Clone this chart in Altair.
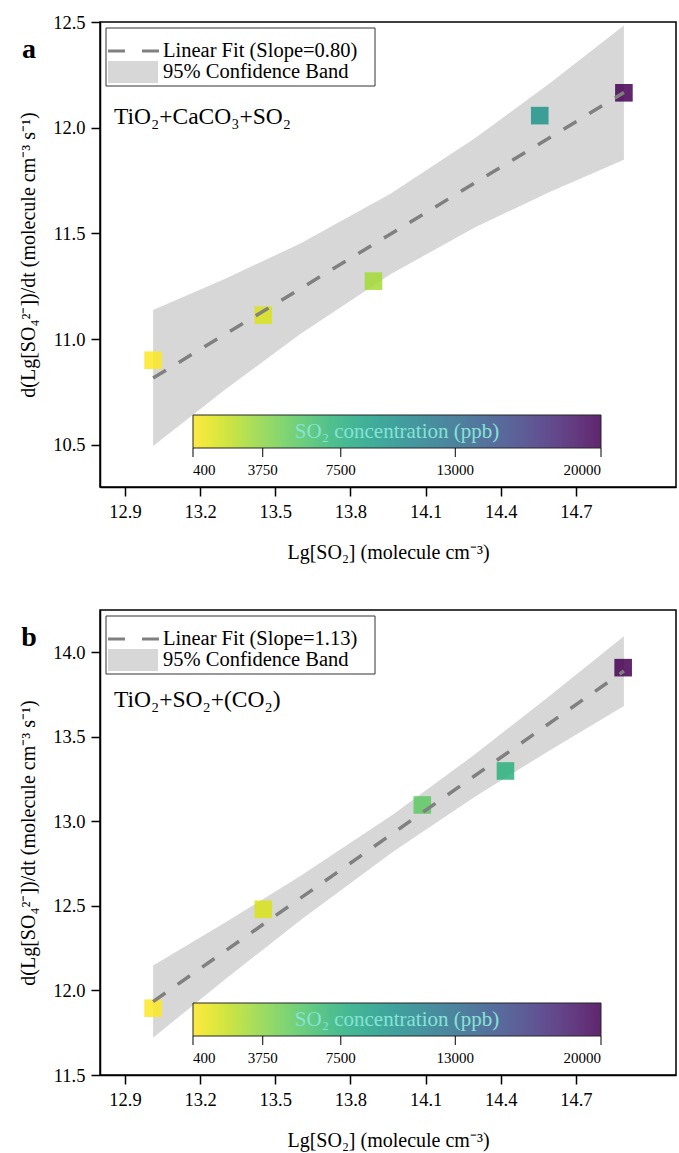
import altair as alt
import pandas as pd

FONT = "Liberation Serif"

# ---------------- data ----------------
x_ticks = [12.9, 13.2, 13.5, 13.8, 14.1, 14.4, 14.7]
cbar_ticks = [400, 3750, 7500, 13000, 20000]

# panel a : TiO2+CaCO3+SO2
a_x = [13.012, 13.452, 13.892, 14.556, 14.892]
a_y = [10.900, 11.113, 11.274, 12.057, 12.165]
a_conc = [400, 1500, 3000, 9800, 20000]
a_fit_x = [13.012, 14.892]
a_fit_y = [10.816, 12.166]
a_band_x = [13.012, 13.3, 13.6, 13.96, 14.3, 14.6, 14.892]
a_band_hi = [11.138, 11.285, 11.452, 11.687, 11.952, 12.214, 12.484]
a_band_lo = [10.494, 10.761, 11.024, 11.307, 11.530, 11.698, 11.848]
a_y_ticks = [10.5, 11.0, 11.5, 12.0, 12.5]

# panel b : TiO2+SO2+(CO2)
b_x = [13.012, 13.452, 14.087, 14.419, 14.889]
b_y = [11.895, 12.480, 13.097, 13.298, 13.909]
b_conc = [400, 1500, 5300, 7500, 20000]
b_fit_x = [13.012, 14.892]
b_fit_y = [11.934, 13.889]
b_band_x = [13.012, 13.3, 13.6, 13.97, 14.3, 14.6, 14.892]
b_band_hi = [12.147, 12.402, 12.677, 13.040, 13.400, 13.748, 14.095]
b_band_lo = [11.721, 12.066, 12.415, 12.820, 13.148, 13.424, 13.683]
b_y_ticks = [11.5, 12.0, 12.5, 13.0, 13.5, 14.0]

X_TITLE = "Lg[SO₂] (molecule cm⁻³)"
Y_TITLE = "d(Lg[SO₄²⁻])/dt (molecule cm⁻³ s⁻¹)"
CB_TITLE = "SO₂ concentration (ppb)"

W, H = 576, 465


def panel(letter, px, py, pconc, fx, fy, bx, bhi, blo, ydom, yticks,
          fit_label, annot, annot_y):
    xs = alt.Scale(domain=[12.8, 15.1], nice=False, zero=False)
    ys = alt.Scale(domain=ydom, nice=False, zero=False)
    xaxis = alt.Axis(values=x_ticks, format=".1f", grid=False, titlePadding=22)
    yaxis = alt.Axis(values=yticks, format=".1f", grid=False, titlePadding=14)

    def X(f):
        return alt.X(f, type="quantitative", scale=xs, axis=xaxis, title=X_TITLE)

    def Y(f):
        return alt.Y(f, type="quantitative", scale=ys, axis=yaxis, title=Y_TITLE)

    band = alt.Chart(pd.DataFrame({"x": bx, "hi": bhi, "lo": blo})).mark_area(
        color="#d7d7d7", opacity=1
    ).encode(x=X("x"), y=Y("lo"), y2="hi:Q")

    pts = alt.Chart(pd.DataFrame({"x": px, "y": py, "conc": pconc})).mark_square(
        size=310, opacity=0.85
    ).encode(
        x=X("x"), y=Y("y"),
        color=alt.Color(
            "conc:Q",
            scale=alt.Scale(scheme="viridis", reverse=True, domain=[400, 20000]),
            legend=alt.Legend(
                orient="none", legendX=93, legendY=399, direction="horizontal",
                gradientLength=408, gradientThickness=33,
                gradientStrokeColor="black", gradientStrokeWidth=1,
                values=cbar_ticks, format="d", labelFont=FONT, labelFontSize=15,
                labelColor="black", labelOffset=15, labelAlign="center",
                labelOverlap=False, padding=0,
                title=CB_TITLE, titleFont=FONT, titleFontSize=21,
                titleFontWeight="normal", titleColor="#86e3d4",
                titleOrient="top", titleAnchor="middle", titleLimit=500,
                titlePadding=-27,
            ),
        ),
    )

    line = alt.Chart(pd.DataFrame({"x": fx, "y": fy})).mark_line(
        color="#808080", strokeDash=[15, 15], strokeWidth=3.5
    ).encode(x=X("x"), y=Y("y"))

    one = pd.DataFrame({"k": [0]})
    box = alt.Chart(one).mark_rect(fill="white", stroke="#333333", strokeWidth=1).encode(
        x=alt.value(6), x2=alt.value(275), y=alt.value(6), y2=alt.value(64))
    leg_line = alt.Chart(one).mark_rule(color="#808080", strokeDash=[17, 17], strokeWidth=3).encode(
        x=alt.value(8), x2=alt.value(59), y=alt.value(29))
    leg_sq = alt.Chart(one).mark_rect(fill="#d7d7d7").encode(
        x=alt.value(8), x2=alt.value(58), y=alt.value(39), y2=alt.value(61))
    leg_t1 = alt.Chart(one).mark_text(
        text=fit_label, font=FONT, fontSize=20.5, align="left", baseline="middle", color="black"
    ).encode(x=alt.value(63), y=alt.value(28.5))
    leg_t2 = alt.Chart(one).mark_text(
        text="95% Confidence Band", font=FONT, fontSize=20.5, align="left", baseline="middle", color="black"
    ).encode(x=alt.value(63), y=alt.value(50))
    ann = alt.Chart(one).mark_text(
        text=annot, font=FONT, fontSize=23.5, align="left", baseline="middle", color="black"
    ).encode(x=alt.value(14), y=alt.value(annot_y))
    let = alt.Chart(one).mark_text(
        text=letter, font=FONT, fontSize=28, fontWeight="bold", align="center",
        baseline="alphabetic", color="black"
    ).encode(x=alt.value(-71), y=alt.value(36))

    inner = alt.layer(band, pts, line, box, leg_line, leg_sq, leg_t1, leg_t2, ann, let)

    ticks = alt.Chart(pd.DataFrame({"v": cbar_ticks})).mark_rule(color="black", strokeWidth=1).encode(
        x=alt.X("v:Q", scale=alt.Scale(domain=[400, 20000], range=[93, 501]), axis=None),
        y=alt.value(426), y2=alt.value(435))

    return alt.layer(inner, ticks).resolve_scale(x="independent").properties(width=W, height=H)


pa = panel("a", a_x, a_y, a_conc, a_fit_x, a_fit_y, a_band_x, a_band_hi, a_band_lo,
           [10.3, 12.5], a_y_ticks, "Linear Fit (Slope=0.80)", "TiO₂+CaCO₃+SO₂", 95)
pb = panel("b", b_x, b_y, b_conc, b_fit_x, b_fit_y, b_band_x, b_band_hi, b_band_lo,
           [11.5, 14.25], b_y_ticks, "Linear Fit (Slope=1.13)", "TiO₂+SO₂+(CO₂)", 90)

chart = alt.vconcat(pa, pb, spacing=45).resolve_scale(color="independent").resolve_legend(
    color="independent"
).properties(
    background="white",
    padding={"left": 17, "top": 12, "right": 2, "bottom": 5},
).configure_axis(
    labelFont=FONT, titleFont=FONT, labelFontSize=18.5, titleFontSize=20,
    titleFontWeight="normal", labelColor="black", titleColor="black",
    domainColor="black", domainWidth=1.5, tickColor="black", tickWidth=1.5,
    tickSize=9, labelPadding=6,
).configure_view(stroke="black", strokeWidth=1.5)

chart.save("out.html", embed_options={"renderer": "svg", "actions": False})
